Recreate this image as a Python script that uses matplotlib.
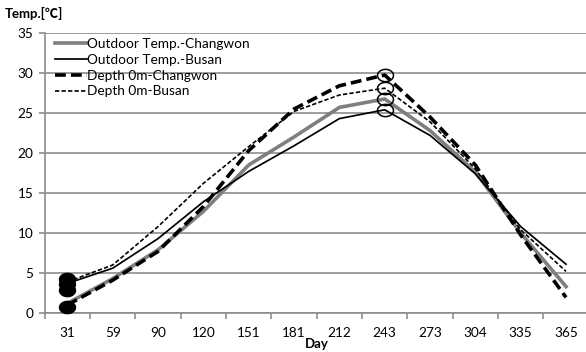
import numpy as np
import matplotlib
matplotlib.use("Agg")
import matplotlib.pyplot as plt
from matplotlib.path import Path

days = ["31", "59", "90", "120", "151", "181", "212", "243", "273", "304", "335", "365"]

outdoor_changwon = [1.2, 4.3, 7.9, 12.7, 18.5, 22.0, 25.7, 26.75, 22.8, 17.6, 10.0, 3.3]
outdoor_busan = [3.7, 5.6, 9.3, 13.9, 17.7, 20.9, 24.3, 25.4, 22.2, 17.4, 10.8, 6.1]
depth0_changwon = [1.0, 4.1, 7.7, 13.3, 20.3, 25.5, 28.4, 29.75, 24.5, 18.5, 9.75, 1.95]
depth0_busan = [3.9, 6.0, 10.8, 16.2, 20.8, 25.2, 27.25, 28.1, 23.9, 18.0, 10.4, 5.2]

# highlighted minimum (day 31) and maximum (day 243) points
min_day = "31"
min_marks = [4.3, 3.6, 2.9, 0.7]
max_day = "243"
max_marks = [depth0_changwon[7], depth0_busan[7], outdoor_changwon[7], outdoor_busan[7]]

y_ticks = [0, 5, 10, 15, 20, 25, 30, 35]

plt.rcParams["font.family"] = ["Lato", "Noto Sans CJK KR", "DejaVu Sans"]

W, H = 586, 352
fig = plt.figure(figsize=(W / 100, H / 100), dpi=100)
ax = fig.add_axes([44.7 / W, (H - 313) / H, 544 / W, 280 / H])

x = np.arange(len(days))
grid_c = "#8c8c8c"

ax.plot(x, outdoor_changwon, color="#7f7f7f", lw=2.6, solid_joinstyle="miter",
        label="Outdoor Temp.-Changwon", zorder=3)
ax.plot(x, outdoor_busan, color="black", lw=1.25, label="Outdoor Temp.-Busan", zorder=4)
ax.plot(x, depth0_changwon, color="black", lw=2.6, linestyle=(0, (3.0, 1.4)),
        label="Depth 0m-Changwon", zorder=5)
ax.plot(x, depth0_busan, color="black", lw=1.2, linestyle=(0, (2.6, 1.3)),
        label="Depth 0m-Busan", zorder=6)

# slightly wide elliptical marker
t = np.linspace(0, 2 * np.pi, 60)
ell = Path(np.column_stack([1.3 * np.cos(t), np.sin(t)]))

xi_min = days.index(min_day)
xi_max = days.index(max_day)
ax.plot([xi_min] * len(min_marks), min_marks, linestyle="none", marker=ell,
        markersize=11.5, color="black", zorder=7, clip_on=False)
ax.plot([xi_max] * len(max_marks), max_marks, linestyle="none", marker=ell,
        markersize=11.5, markerfacecolor="none", markeredgecolor="black",
        markeredgewidth=1.1, zorder=7)

ax.set_xlim(-0.5, len(days) - 0.5)
ax.set_ylim(0, 35)
ax.set_yticks(y_ticks)
ax.set_xticks(x)
ax.set_xticklabels(days)
ax.set_xticks(np.arange(len(days) + 1) - 0.5, minor=True)

ax.grid(axis="y", color=grid_c, lw=1.2, zorder=0)
ax.set_axisbelow(True)
for s in ["top", "right"]:
    ax.spines[s].set_visible(False)
for s in ["left", "bottom"]:
    ax.spines[s].set_color(grid_c)
    ax.spines[s].set_linewidth(1.2)

ax.tick_params(axis="y", which="major", length=4, width=1.2, color=grid_c,
               labelsize=9.8, pad=4)
ax.tick_params(axis="x", which="major", length=0, labelsize=9.8, pad=10)
ax.tick_params(axis="x", which="minor", length=4, width=1.2, color=grid_c)

ax.set_xlabel("Day", fontsize=9.5, fontweight="bold", labelpad=-1)
fig.text(5 / W, 1 - 13 / H, "Temp.[℃]", fontsize=9.5, fontweight="bold",
         va="center", ha="left")

leg = ax.legend(loc="upper left", bbox_to_anchor=(10 / 544, 1.0 - 5 / 280),
                frameon=False, fontsize=9.8, handlelength=2.35, handletextpad=0.0,
                labelspacing=0.28, borderaxespad=0.0, borderpad=0.0)

fig.savefig("out.png", dpi=100)
